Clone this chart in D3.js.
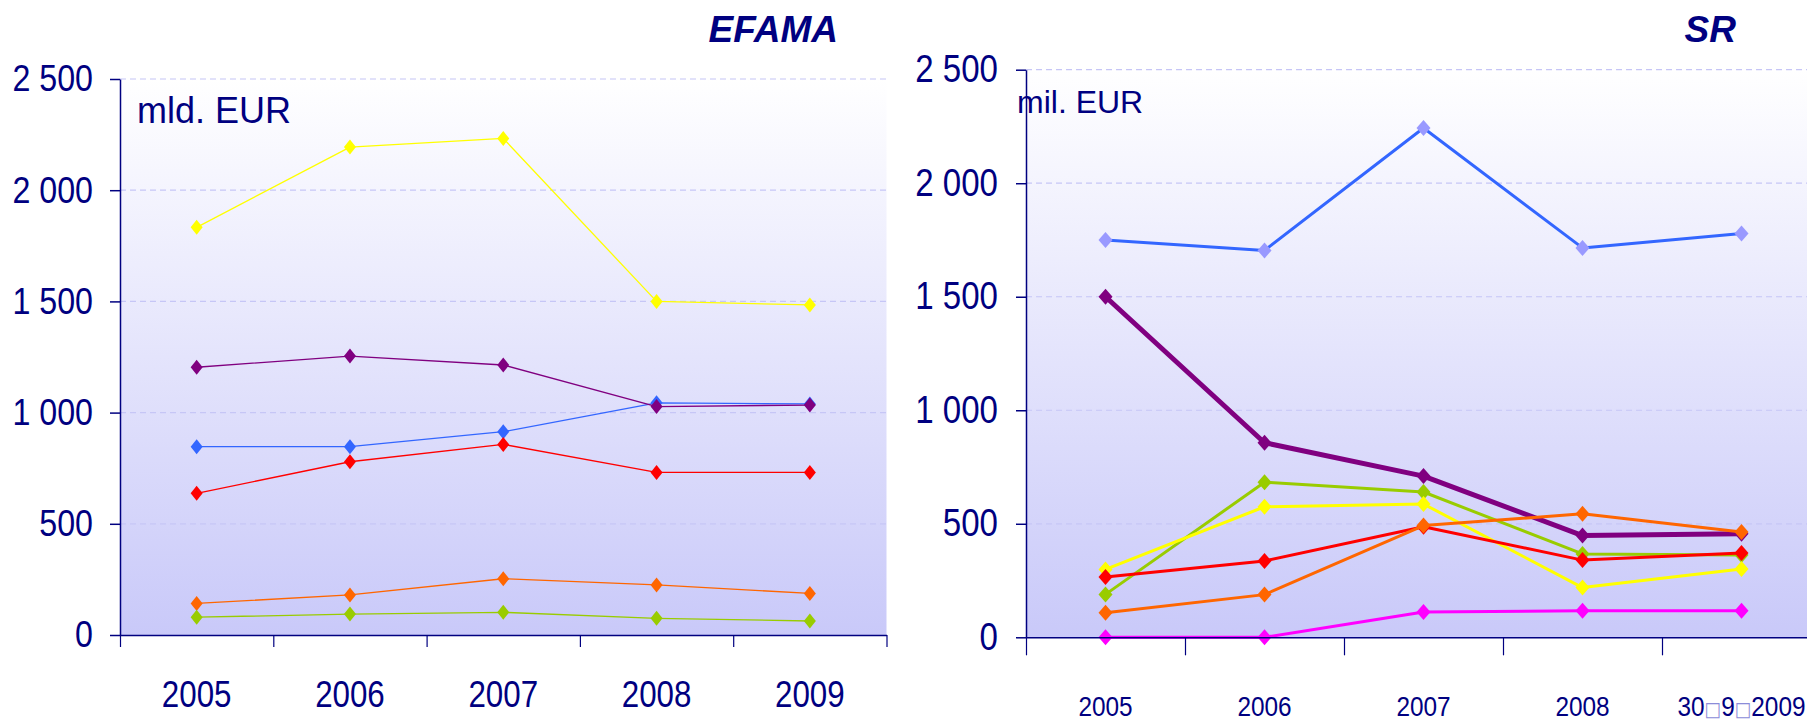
<!DOCTYPE html>
<html lang="sk">
<head>
<meta charset="UTF-8">
<title>EFAMA / SR</title>
<script src="https://cdn.jsdelivr.net/npm/d3@7"></script>
<style>
  body { margin: 0; background: #fff; }
  svg { display: block; font-family: "Liberation Sans", Arial, sans-serif; }
</style>
</head>
<body>
<svg id="chart" width="1807" height="722"></svg>
<script>
// ---- data: EFAMA (mld. EUR) ----
const efamaYears = ["2005", "2006", "2007", "2008", "2009"];
const efamaYellow = [1833, 2194, 2233, 1500, 1484];
const efamaBlue   = [847, 847, 914, 1044, 1039];
const efamaPurple = [1204, 1254, 1214, 1027, 1034];
const efamaRed    = [637, 779, 857, 731, 731];
const efamaOrange = [142, 180, 253, 225, 187];
const efamaGreen  = [80, 94, 102, 75, 63];

// ---- data: SR (mil. EUR) ----
const srYears = ["2005", "2006", "2007", "2008", "30\u25A19\u25A12009"];
const srBlue    = [1750, 1704, 2243, 1715, 1779];
const srPurple  = [1500, 857, 710, 448, 456];
const srGreen   = [189, 683, 640, 367, 362];
const srYellow  = [299, 575, 587, 219, 301];
const srRed     = [266, 336, 487, 340, 371];
const srOrange  = [108, 188, 492, 544, 464];
const srMagenta = [0, 0, 111, 117, 117];

const yTicks = [0, 500, 1000, 1500, 2000, 2500];

const navy = "#000080";
const squeeze = 0.87; // tick labels in the original are a narrow face
const fmt = d3.formatLocale({decimal: ",", thousands: " ", grouping: [3], currency: ["", ""]}).format(",");

const svg = d3.select("#chart");
const defs = svg.append("defs");

function diamond(hw, hh) {
  return "M0," + (-hh) + "L" + hw + ",0L0," + hh + "L" + (-hw) + ",0Z";
}

function drawPanel(p) {
  const n = p.cats.length;
  const y = d3.scaleLinear().domain([0, 2500]).range([p.yZero, p.yTop]);
  const xBand = d3.scaleBand().domain(p.cats).range([p.x0, p.x0 + n * p.band]);
  const xEdge = d3.scaleLinear().domain([0, n]).range([p.x0, p.x0 + n * p.band]);

  const g = svg.append("g");

  // plot background
  const grad = defs.append("linearGradient")
    .attr("id", p.id + "-bg")
    .attr("x1", 0).attr("y1", 0).attr("x2", 0).attr("y2", 1);
  grad.append("stop").attr("offset", 0).attr("stop-color", "#ffffff");
  grad.append("stop").attr("offset", 1).attr("stop-color", "#c9c9f9");

  g.append("rect")
    .attr("x", p.x0).attr("y", y(2500))
    .attr("width", n * p.band).attr("height", y(0) - y(2500))
    .attr("fill", "url(#" + p.id + "-bg)");

  // dashed gridlines
  g.selectAll(".grid")
    .data(yTicks.slice(1))
    .enter()
    .append("line")
    .attr("x1", p.x0).attr("x2", p.x0 + n * p.band)
    .attr("y1", d => y(d)).attr("y2", d => y(d))
    .attr("stroke", "#c6c6f6")
    .attr("stroke-width", 1.2)
    .attr("stroke-dasharray", "6,4");

  // lines + markers
  const line = d3.line()
    .x((v, i) => xBand(p.cats[i]) + xBand.bandwidth() / 2)
    .y(v => y(v));

  p.series.forEach(s => {
    g.append("path")
      .datum(s.values)
      .attr("fill", "none")
      .attr("stroke", s.color)
      .attr("stroke-width", s.width)
      .attr("stroke-linejoin", "round")
      .attr("d", line);

    g.selectAll(null)
      .data(s.values)
      .enter()
      .append("path")
      .attr("d", diamond(p.mw, p.mh))
      .attr("fill", s.marker || s.color)
      .attr("transform", (v, i) => "translate(" + (xBand(p.cats[i]) + xBand.bandwidth() / 2) + "," + y(v) + ")");
  });

  // y axis
  const yAxis = g.append("g")
    .attr("transform", "translate(" + p.x0 + ",0)")
    .call(d3.axisLeft(y).tickValues(yTicks).tickSize(10).tickSizeOuter(0).tickFormat(fmt));
  yAxis.select(".domain").attr("stroke", navy).attr("stroke-width", 1.5);
  yAxis.selectAll(".tick line").attr("stroke", navy).attr("stroke-width", 1.5);
  yAxis.selectAll("text")
    .attr("fill", navy)
    .attr("font-size", p.yFont)
    .attr("font-family", "Liberation Sans, Arial, sans-serif")
    .attr("x", -p.yGap / squeeze)
    .attr("transform", "scale(" + squeeze + ",1)");

  // x axis: tick marks on band edges
  const xAxis = g.append("g")
    .attr("transform", "translate(0," + p.yZero + ")")
    .call(d3.axisBottom(xEdge).tickValues(d3.range(n + 1)).tickSize(p.xTick).tickSizeOuter(0).tickFormat(""));
  xAxis.select(".domain").attr("stroke", navy).attr("stroke-width", 1.5);
  xAxis.selectAll(".tick line").attr("stroke", navy).attr("stroke-width", 1.2);

  // x axis: category labels
  const xLabels = g.append("g")
    .attr("transform", "translate(0," + p.yZero + ")")
    .call(d3.axisBottom(xBand).tickSize(0));
  xLabels.select(".domain").remove();
  xLabels.selectAll("text")
    .attr("fill", navy)
    .attr("font-size", p.xFont)
    .attr("font-family", "Liberation Sans, Arial, sans-serif")
    .attr("y", p.xOffset)
    .attr("dy", 0)
    .attr("transform", "scale(" + squeeze + ",1)")
    .each(function(d) {
      if (d.indexOf("\u25A1") < 0) return;
      const t = d3.select(this).text(null);
      d.split(/(\u25A1)/).forEach(part => {
        const ts = t.append("tspan").text(part);
        if (part === "\u25A1") ts.attr("fill", "#8c8cd8").attr("font-family", "DejaVu Sans").attr("font-size", p.xFont * 0.72);
      });
    });

  // unit label
  g.append("text")
    .attr("x", p.unitX).attr("y", p.unitY)
    .attr("fill", navy)
    .attr("font-size", p.unitFont)
    .text(p.unit);

  // title
  g.append("text")
    .attr("x", p.titleX).attr("y", 42)
    .attr("text-anchor", "end")
    .attr("fill", navy)
    .attr("font-size", 37)
    .attr("font-weight", "bold")
    .attr("font-style", "italic")
    .text(p.title);
}

drawPanel({
  id: "efama", title: "EFAMA", titleX: 838,
  unit: "mld. EUR", unitX: 137, unitY: 123, unitFont: 36,
  cats: efamaYears, x0: 120, band: 153.3, yTop: 79, yZero: 635,
  yFont: 37, yGap: 27, xFont: 36, xOffset: 72, xTick: 12,
  mw: 6, mh: 7.5,
  series: [
    {values: efamaYellow, color: "#ffff00", width: 1.3},
    {values: efamaBlue,   color: "#3366ff", width: 1.3},
    {values: efamaPurple, color: "#800080", width: 1.3},
    {values: efamaRed,    color: "#ff0000", width: 1.3},
    {values: efamaOrange, color: "#ff6600", width: 1.3},
    {values: efamaGreen,  color: "#99cc00", width: 1.3}
  ]
});

drawPanel({
  id: "sr", title: "SR", titleX: 1736,
  unit: "mil. EUR", unitX: 1017, unitY: 113, unitFont: 32,
  cats: srYears, x0: 1026, band: 159, yTop: 69.7, yZero: 637.3,
  yFont: 38, yGap: 28, xFont: 28, xOffset: 79, xTick: 18,
  mw: 7, mh: 8,
  series: [
    {values: srBlue,    color: "#3366ff", marker: "#9999ff", width: 3},
    {values: srPurple,  color: "#800080", width: 5},
    {values: srGreen,   color: "#99cc00", width: 3},
    {values: srYellow,  color: "#ffff00", width: 3},
    {values: srRed,     color: "#ff0000", width: 3},
    {values: srOrange,  color: "#ff6600", width: 3},
    {values: srMagenta, color: "#ff00ff", width: 3}
  ]
});
</script>
</body>
</html>
